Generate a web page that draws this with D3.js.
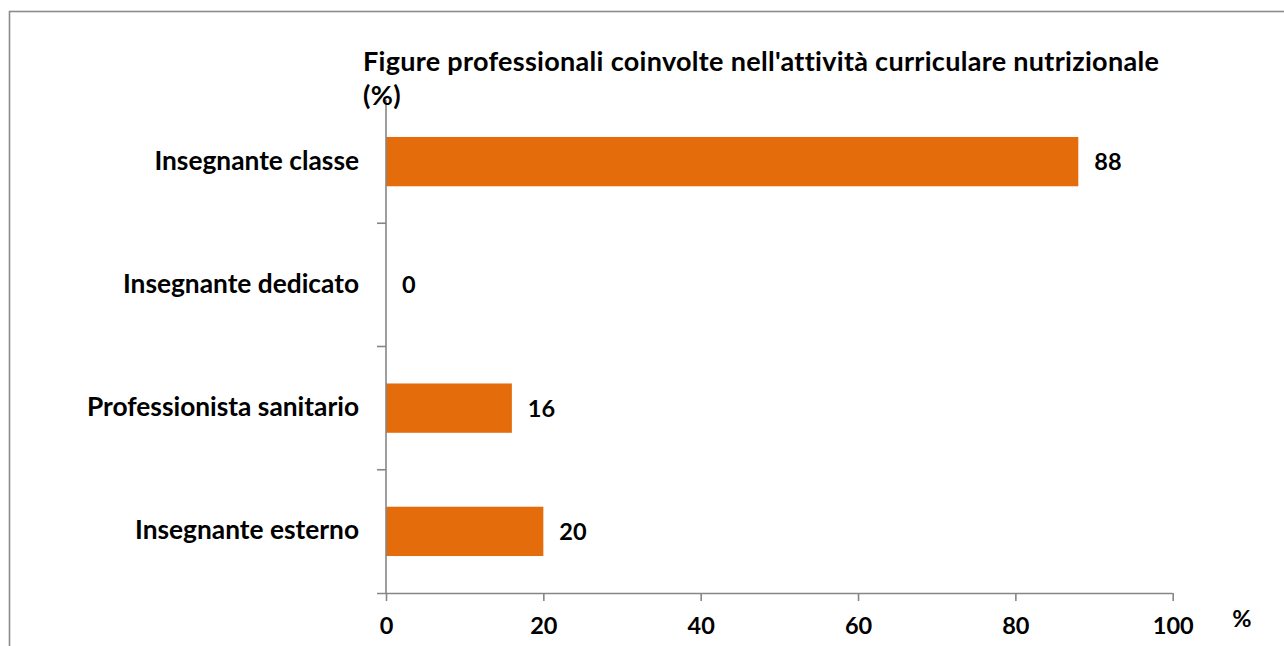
<!DOCTYPE html>
<html>
<head>
<meta charset="utf-8">
<script src="https://cdn.jsdelivr.net/npm/d3@7"></script>
<style>
  html, body { margin: 0; padding: 0; background: #fff; }
  svg { display: block; }
  text { font-family: Lato, "Open Sans", sans-serif; font-weight: bold; fill: #000; }
</style>
</head>
<body>
<svg id="chart" width="1284" height="646"></svg>
<script>
const categories = ["Insegnante classe", "Insegnante dedicato", "Professionista sanitario", "Insegnante esterno"];
const values = [88, 0, 16, 20];
const tickValues = [0, 20, 40, 60, 80, 100];
const titleLines = ["Figure professionali coinvolte nell'attività curriculare nutrizionale", "(%)"];
const axisUnit = "%";

const svg = d3.select("#chart");
const axisColor = "#868686";
const barColor = "#E46C0A";
const fsNum = 23.5;
const fsCat = 26.3;
const fsTitle = 27;

// outer frame
svg.append("rect").attr("x", 9.5).attr("y", 11.5).attr("width", 1300).attr("height", 700)
  .attr("fill", "none").attr("stroke", "#8c8c8c").attr("stroke-width", 1.6);

const x = d3.scaleLinear().domain([0, 100]).range([386, 1172.7]);
const y = d3.scaleBand().domain(categories).range([100, 593]).paddingInner(0.6).paddingOuter(0.3);

// bars
svg.append("g").selectAll("rect").data(values).join("rect")
  .attr("x", x(0))
  .attr("y", (d, i) => y(categories[i]))
  .attr("width", d => x(d) - x(0))
  .attr("height", y.bandwidth())
  .attr("fill", barColor);

// value labels
svg.append("g").selectAll("text").data(values).join("text")
  .attr("x", d => x(d) + 16)
  .attr("y", (d, i) => y(categories[i]) + y.bandwidth() / 2)
  .attr("dy", "0.36em")
  .attr("font-size", fsNum)
  .text(d => d);

// x axis
const xAxis = d3.axisBottom(x).tickValues(tickValues).tickSize(8).tickPadding(16).tickFormat(d3.format("d"));
const gx = svg.append("g").attr("transform", "translate(0,593)").call(xAxis);
gx.select(".domain").attr("stroke", axisColor).attr("stroke-width", 1.6).attr("d", `M${x(0) - 9},0.5H${x(100)}`);
gx.selectAll(".tick line").attr("stroke", axisColor).attr("stroke-width", 1.6);
gx.selectAll(".tick text").attr("font-size", fsNum).attr("font-family", "Lato, sans-serif").attr("font-weight", "bold").attr("fill", "#000");

// y axis line and boundary ticks
const step = y.step();
const yTop = y.range()[0];
svg.append("line").attr("x1", x(0)).attr("x2", x(0)).attr("y1", yTop).attr("y2", 594)
  .attr("stroke", axisColor).attr("stroke-width", 1.6);
const bounds = d3.range(1, categories.length).map(i => yTop + i * step);
svg.append("g").selectAll("line").data(bounds).join("line")
  .attr("x1", x(0) - 9).attr("x2", x(0)).attr("y1", d => d).attr("y2", d => d)
  .attr("stroke", axisColor).attr("stroke-width", 1.6);

// category labels
svg.append("g").selectAll("text").data(categories).join("text")
  .attr("x", 359)
  .attr("y", d => y(d) + y.bandwidth() / 2)
  .attr("dy", "0.3em")
  .attr("text-anchor", "end")
  .attr("font-size", fsCat)
  .text(d => d);

// title
svg.append("g").selectAll("text").data(titleLines).join("text")
  .attr("x", 363)
  .attr("y", (d, i) => 71 + i * 34)
  .attr("font-size", fsTitle)
  .attr("letter-spacing", 0.3)
  .text(d => d);

// unit label
svg.append("text").attr("x", 1242).attr("y", 627).attr("text-anchor", "middle")
  .attr("font-size", fsNum).text(axisUnit);
</script>
</body>
</html>
